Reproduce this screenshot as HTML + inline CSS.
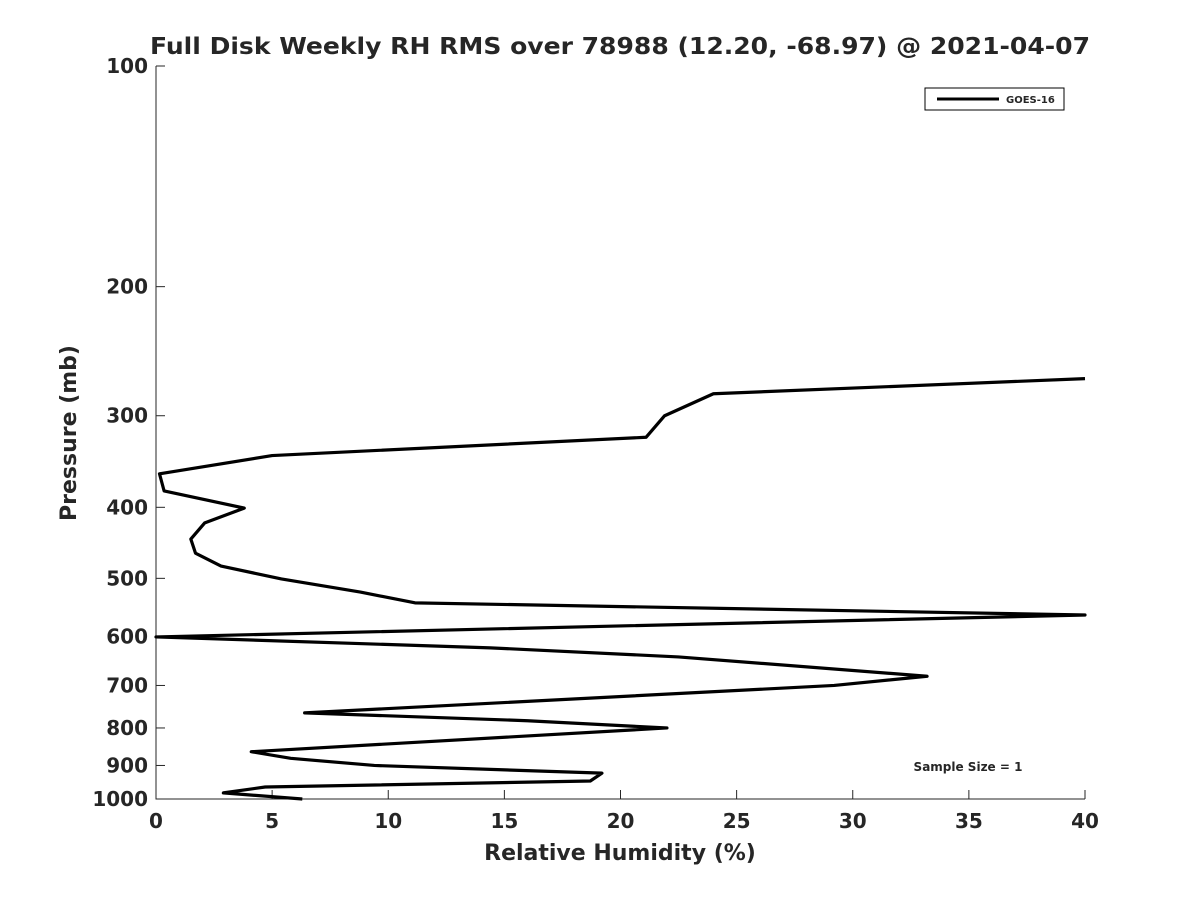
<!DOCTYPE html>
<html><head><meta charset="utf-8"><style>
body{margin:0;background:#fff}
svg text{font-family:"DejaVu Sans","Liberation Sans",sans-serif;fill:#262626;font-weight:bold}
</style></head><body>
<svg width="1200" height="900" viewBox="0 0 1200 900">
<rect width="1200" height="900" fill="#fff"/>
<text x="150" y="54" font-size="23" textLength="940" lengthAdjust="spacingAndGlyphs" fill="#000">Full Disk Weekly RH RMS over 78988 (12.20, -68.97) @ 2021-04-07</text>
<g id="axes"></g>
<polyline id="line" fill="none" stroke="#000" stroke-width="3.2" stroke-linejoin="round"/>
<g>
<rect x="925" y="88" width="139" height="22" fill="#fff" stroke="#000" stroke-width="1"/>
<line x1="937" y1="99" x2="999" y2="99" stroke="#000" stroke-width="3"/>
<text x="1006" y="103" font-size="10">GOES-16</text>
</g>
<text x="968" y="771" font-size="12" text-anchor="middle" fill="#000">Sample Size = 1</text>
<text x="620" y="860" font-size="22" text-anchor="middle">Relative Humidity (%)</text>
<text transform="translate(76,433) rotate(-90)" font-size="22" text-anchor="middle">Pressure (mb)</text>
</svg>
<script>
const rhValues=[6.3,2.9,4.7,18.7,19.2,9.4,5.8,4.1,22.0,16.0,6.4,29.2,33.2,22.5,14.4,0,40,11.15,8.8,5.4,2.8,1.7,1.5,2.1,3.8,0.35,0.15,5.0,21.1,21.9,24.0,40];
const pressures=[1000,981,963,945,922,900,880,862,800,782,763,700,680,640,622,601,561,540,522,501,481,462,442,420,401,380,360,340,321,300,280,267];
const xTicks=[0,5,10,15,20,25,30,35,40];
const yTicks=[100,200,300,400,500,600,700,800,900,1000];
const X0=156,X1=1085,Y0=66,Y1=799;
const xs=v=>X0+(X1-X0)*v/40;
const ys=p=>Y0+(Y1-Y0)*Math.log10(p/100);
const ns="http://www.w3.org/2000/svg";
const ax=document.getElementById('axes');
function mk(t,a){const e=document.createElementNS(ns,t);for(const k in a)e.setAttribute(k,a[k]);return e;}
const frame=mk('path',{d:`M${X0} ${Y0}V${Y1}H${X1}`,fill:'none',stroke:'#262626','stroke-width':1});


ax.appendChild(frame);
xTicks.forEach(v=>{
 const l=mk('line',{x1:xs(v),x2:xs(v),y1:Y1,y2:Y1-9,stroke:'#262626'});
 
 
 ax.appendChild(l);
 const t=mk('text',{x:xs(v),y:Y1+29,'font-size':20,'text-anchor':'middle'});
 t.textContent=v;
 
 
 ax.appendChild(t);
});
yTicks.forEach(p=>{
 const l=mk('line',{x1:X0,x2:X0+9,y1:ys(p),y2:ys(p),stroke:'#262626'});
 
 
 ax.appendChild(l);
 const t=mk('text',{x:X0-8,y:ys(p)+7,'font-size':20,'text-anchor':'end'});
 t.textContent=p;
 
 
 ax.appendChild(t);
});
document.getElementById('line').setAttribute('points',rhValues.map((v,i)=>xs(v)+','+ys(pressures[i])).join(' '));
</script>
</body></html>
